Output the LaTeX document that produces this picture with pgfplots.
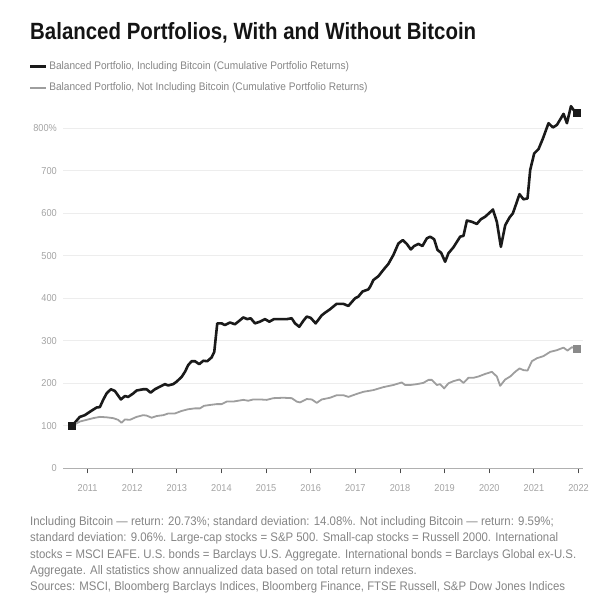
\documentclass[border=0pt]{standalone}
\usepackage{fontspec}
\setmainfont{Liberation Sans}[FakeStretch=0.92]
\newfontfamily\titlefont{Liberation Sans}[FakeStretch=0.87]
\usepackage{pgfplots}
\pgfplotsset{compat=1.18}
\definecolor{blk}{HTML}{1A1A1A}
\definecolor{gr}{HTML}{9E9E9E}
\definecolor{grm}{HTML}{8A8A8A}
\definecolor{txt}{HTML}{858585}
\definecolor{tlab}{HTML}{A3A3A3}
\definecolor{gridc}{HTML}{EDEDED}
\definecolor{axl}{HTML}{B0B0B0}
\definecolor{tickc}{HTML}{4A4A4A}

\pgfplotstableread{
x y
2010.655 100
2010.827 121
2010.939 125
2011.052 133
2011.202 143
2011.276 144
2011.350 161
2011.426 176
2011.522 186
2011.612 182
2011.747 162
2011.836 170
2011.910 168
2012.022 176
2012.099 183
2012.247 186
2012.323 186
2012.413 178
2012.509 186
2012.621 192
2012.733 198
2012.807 195
2012.919 198
2012.996 204
2013.108 215
2013.182 227
2013.256 243
2013.332 252
2013.406 252
2013.502 245
2013.592 253
2013.682 252
2013.780 261
2013.839 274
2013.906 341
2014.004 341
2014.078 337
2014.191 343
2014.303 339
2014.399 347
2014.489 355
2014.578 351
2014.655 353
2014.751 341
2014.863 345
2014.975 351
2015.072 345
2015.177 351
2015.312 351
2015.462 351
2015.574 353
2015.648 341
2015.744 333
2015.834 347
2015.911 357
2016.000 354
2016.110 341
2016.247 360
2016.320 366
2016.430 374
2016.580 387
2016.731 387
2016.843 382
2016.993 400
2017.067 404
2017.160 416
2017.291 421
2017.330 427
2017.404 443
2017.516 452
2017.628 467
2017.740 481
2017.852 502
2017.964 529
2018.063 537
2018.152 528
2018.242 515
2018.316 523
2018.413 528
2018.502 523
2018.601 541
2018.675 545
2018.765 539
2018.839 514
2018.922 507
2019.011 486
2019.085 506
2019.197 520
2019.348 545
2019.422 547
2019.498 583
2019.610 580
2019.722 575
2019.812 586
2019.908 592
2020.004 601
2020.081 609
2020.170 580
2020.260 521
2020.357 572
2020.453 590
2020.529 600
2020.619 627
2020.677 645
2020.767 633
2020.857 635
2020.917 702
2021.007 741
2021.103 751
2021.202 776
2021.327 812
2021.426 802
2021.516 808
2021.664 834
2021.740 812
2021.830 852
2021.904 841
2021.949 837
}\withbtc

\pgfplotstableread{
x y
2010.655 100
2010.827 110
2010.978 114
2011.126 118
2011.276 121
2011.426 120
2011.574 118
2011.686 114
2011.762 107
2011.836 115
2011.948 114
2012.099 121
2012.247 125
2012.323 124
2012.435 119
2012.547 123
2012.695 125
2012.807 129
2012.957 129
2013.108 135
2013.256 139
2013.406 141
2013.518 141
2013.608 147
2013.742 149
2013.892 151
2014.004 151
2014.117 157
2014.265 157
2014.489 161
2014.601 159
2014.713 162
2014.863 162
2015.013 161
2015.161 165
2015.386 166
2015.574 165
2015.686 157
2015.760 155
2015.910 163
2016.022 162
2016.135 154
2016.247 162
2016.433 166
2016.583 172
2016.731 172
2016.843 168
2017.031 175
2017.179 180
2017.404 184
2017.628 191
2017.852 196
2018.040 202
2018.114 196
2018.226 196
2018.377 198
2018.525 201
2018.637 208
2018.713 208
2018.825 196
2018.899 198
2018.989 188
2019.085 200
2019.197 205
2019.332 209
2019.422 201
2019.534 213
2019.646 213
2019.758 216
2019.908 222
2020.058 227
2020.170 216
2020.244 194
2020.357 209
2020.469 216
2020.581 227
2020.677 235
2020.767 231
2020.857 230
2020.955 252
2021.067 259
2021.215 264
2021.365 274
2021.516 278
2021.664 284
2021.753 277
2021.852 285
2021.949 281
}\nobtc

\begin{document}
\begin{tikzpicture}[x=1pt,y=1pt]
\useasboundingbox (0,0) rectangle (613,613);
\node[anchor=base west, inner sep=0pt, font=\titlefont\bfseries\fontsize{23.5}{27}\selectfont, text=black!92] at (30,573) {Balanced Portfolios, With and Without Bitcoin};
\begin{axis}[
  at={(63pt,144.7pt)}, anchor=south west,
  scale only axis, width=520pt, height=369.75pt,
  xmin=2010.45, xmax=2022.1, ymin=0, ymax=870,
  axis x line*=bottom, axis y line*=left,
  x axis line style={draw=axl, line width=1.2pt, -},
  y axis line style={draw=none},
  xtick={2011,2012,2013,2014,2015,2016,2017,2018,2019,2020,2021,2022},
  xticklabels={2011,2012,2013,2014,2015,2016,2017,2018,2019,2020,2021,2022},
  ytick={0,100,200,300,400,500,600,700,800},
  yticklabels={0,100,200,300,400,500,600,700,800\%},
  xtick align=outside, ytick align=inside,
  major tick length=5pt,
  xtick style={draw=tickc, line width=1pt},
  ytick style={draw=none},
  ymajorgrids, grid style={draw=gridc, line width=1pt},
  xticklabel style={font=\fontsize{10}{12}\selectfont, text=tlab, inner sep=0pt, yshift=-11pt},
  yticklabel style={font=\fontsize{10}{12}\selectfont, text=tlab, inner sep=0pt, anchor=east, xshift=-6pt},
  legend style={at={(-0.0654,1.0583)}, anchor=west, draw=none, fill=none, inner sep=0pt, row sep=12pt, column sep=1.5pt, font=\fontsize{11}{13}\selectfont, text=txt, nodes={inner sep=0pt}},
  legend cell align=left,
  legend image code/.code={\draw[#1, line cap=butt] (0pt,0pt) -- (16pt,0pt);},
  clip=false,
]
\addplot[draw=blk, line width=2.6pt, line join=round] table[x=x,y=y] {\withbtc};
\addlegendentry{Balanced Portfolio, Including Bitcoin (Cumulative Portfolio Returns)}
\addplot[draw=gr, line width=1.8pt, line join=round] table[x=x,y=y] {\nobtc};
\addlegendentry{Balanced Portfolio, Not Including Bitcoin (Cumulative Portfolio Returns)}
\addplot[forget plot, only marks, mark=square*, mark size=3.5pt, mark options={draw=grm, fill=grm}] coordinates {(2021.949,281)};
\addplot[forget plot, only marks, mark=square*, mark size=3.5pt, mark options={draw=blk, fill=blk}] coordinates {(2021.949,837) (2010.655,100)};
\end{axis}
\node[anchor=north west, inner sep=0pt, align=left, font=\fontsize{12.4}{16.3}\selectfont, text=txt] at (30,96.5) {Including Bitcoin — return: 20.73\%; standard deviation: 14.08\%. Not including Bitcoin — return: 9.59\%;\\
standard deviation: 9.06\%. Large-cap stocks = S\&P 500. Small-cap stocks = Russell 2000. International\\
stocks = MSCI EAFE. U.S. bonds = Barclays U.S. Aggregate. International bonds = Barclays Global ex-U.S.\\
Aggregate. All statistics show annualized data based on total return indexes.\\
Sources: MSCI, Bloomberg Barclays Indices, Bloomberg Finance, FTSE Russell, S\&P Dow Jones Indices};
\end{tikzpicture}
\end{document}
